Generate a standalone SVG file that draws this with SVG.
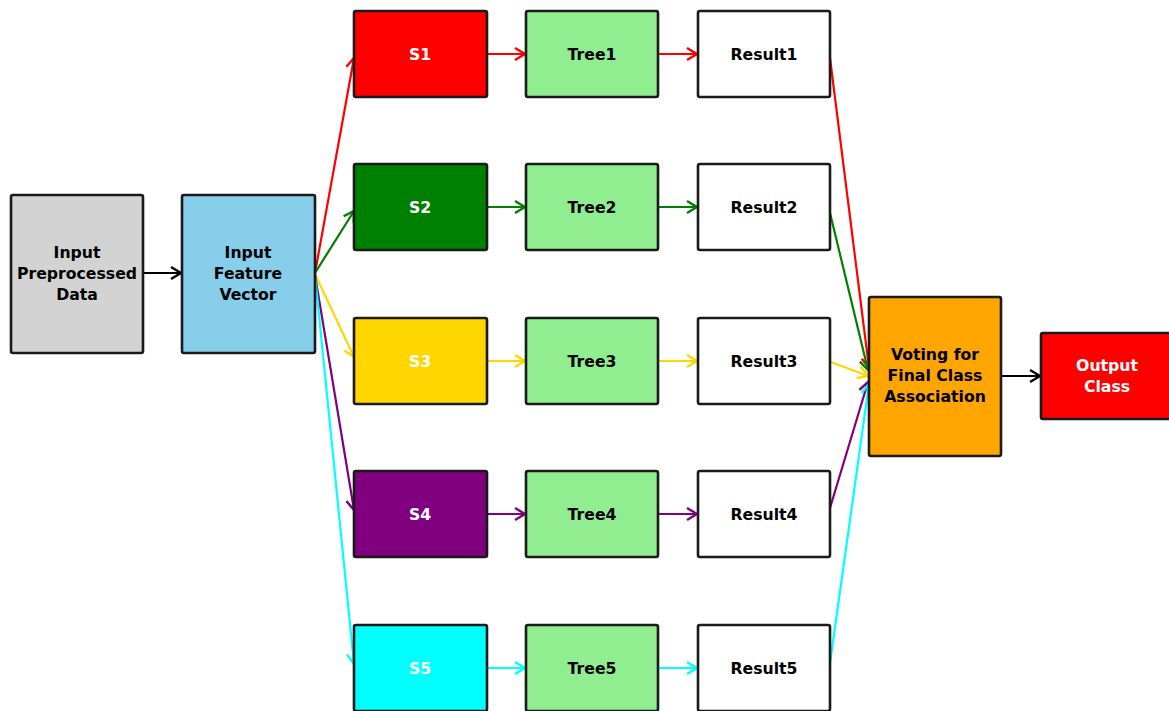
<svg xmlns="http://www.w3.org/2000/svg" width="1169" height="711" viewBox="0 0 1169 711">
<style>
.box{stroke:#1a1a1a;stroke-width:2.6}
.t{font-family:"DejaVu Sans",sans-serif;font-weight:bold;font-size:15.7px;text-anchor:middle}
.w{fill:#ffffff}
.k{fill:#000000}
.c{fill:none;stroke-width:2.2}
</style>
<defs>
<marker id="mk" markerUnits="userSpaceOnUse" markerWidth="16" markerHeight="16" refX="13" refY="8" orient="auto"><path d="M3,2 L13,8 L3,14" fill="none" stroke="#000" stroke-width="2.4"/></marker>
<marker id="mr" markerUnits="userSpaceOnUse" markerWidth="16" markerHeight="16" refX="13" refY="8" orient="auto"><path d="M3,2 L13,8 L3,14" fill="none" stroke="#ff0000" stroke-width="2.4"/></marker>
<marker id="mg" markerUnits="userSpaceOnUse" markerWidth="16" markerHeight="16" refX="13" refY="8" orient="auto"><path d="M3,2 L13,8 L3,14" fill="none" stroke="#008000" stroke-width="2.4"/></marker>
<marker id="my" markerUnits="userSpaceOnUse" markerWidth="16" markerHeight="16" refX="13" refY="8" orient="auto"><path d="M3,2 L13,8 L3,14" fill="none" stroke="#ffd700" stroke-width="2.4"/></marker>
<marker id="mp" markerUnits="userSpaceOnUse" markerWidth="16" markerHeight="16" refX="13" refY="8" orient="auto"><path d="M3,2 L13,8 L3,14" fill="none" stroke="#800080" stroke-width="2.4"/></marker>
<marker id="mc" markerUnits="userSpaceOnUse" markerWidth="16" markerHeight="16" refX="13" refY="8" orient="auto"><path d="M3,2 L13,8 L3,14" fill="none" stroke="#00ffff" stroke-width="2.4"/></marker>
</defs>
<rect width="1169" height="711" fill="#ffffff"/>
<g id="connectors">
<line class="c" x1="143" y1="273" x2="181" y2="273" stroke="#000" marker-end="url(#mk)"/>
<line class="c" x1="1001" y1="376" x2="1040" y2="376" stroke="#000" marker-end="url(#mk)"/>
<line class="c" x1="315" y1="273" x2="354" y2="58" stroke="#ff0000" marker-end="url(#mr)"/>
<line class="c" x1="315" y1="273" x2="354" y2="211" stroke="#008000" marker-end="url(#mg)"/>
<line class="c" x1="315" y1="274" x2="354" y2="357" stroke="#ffd700" marker-end="url(#my)"/>
<line class="c" x1="315" y1="275" x2="354" y2="510" stroke="#800080" marker-end="url(#mp)"/>
<line class="c" x1="315" y1="275" x2="354" y2="664" stroke="#00ffff" marker-end="url(#mc)"/>
<line class="c" x1="487" y1="54" x2="525" y2="54" stroke="#ff0000" marker-end="url(#mr)"/>
<line class="c" x1="658" y1="54" x2="697" y2="54" stroke="#ff0000" marker-end="url(#mr)"/>
<line class="c" x1="487" y1="207" x2="525" y2="207" stroke="#008000" marker-end="url(#mg)"/>
<line class="c" x1="658" y1="207" x2="697" y2="207" stroke="#008000" marker-end="url(#mg)"/>
<line class="c" x1="487" y1="361" x2="525" y2="361" stroke="#ffd700" marker-end="url(#my)"/>
<line class="c" x1="658" y1="361" x2="697" y2="361" stroke="#ffd700" marker-end="url(#my)"/>
<line class="c" x1="487" y1="514" x2="525" y2="514" stroke="#800080" marker-end="url(#mp)"/>
<line class="c" x1="658" y1="514" x2="697" y2="514" stroke="#800080" marker-end="url(#mp)"/>
<line class="c" x1="487" y1="668" x2="525" y2="668" stroke="#00ffff" marker-end="url(#mc)"/>
<line class="c" x1="658" y1="668" x2="697" y2="668" stroke="#00ffff" marker-end="url(#mc)"/>
<line class="c" x1="830" y1="58" x2="869" y2="368" stroke="#ff0000" marker-end="url(#mr)"/>
<line class="c" x1="830" y1="213" x2="868" y2="370" stroke="#008000" marker-end="url(#mg)"/>
<line class="c" x1="831" y1="362" x2="868" y2="376" stroke="#ffd700" marker-end="url(#my)"/>
<line class="c" x1="830" y1="508" x2="868" y2="382" stroke="#800080" marker-end="url(#mp)"/>
<line class="c" x1="830" y1="663" x2="869" y2="384" stroke="#00ffff" marker-end="url(#mc)"/>
</g>
<g id="input"><rect class="box" x="11" y="195" width="132" height="158" rx="2" fill="#d3d3d3"/><text class="t k" x="77" y="258">Input</text><text class="t k" x="77" y="279">Preprocessed</text><text class="t k" x="77" y="300">Data</text></g>
<g id="feature"><rect class="box" x="182" y="195" width="133" height="158" rx="2" fill="#87ceeb"/><text class="t k" x="248" y="258">Input</text><text class="t k" x="248" y="279">Feature</text><text class="t k" x="248" y="300">Vector</text></g>
<g id="s1"><rect class="box" x="354" y="11" width="133" height="86" rx="2" fill="#ff0000"/><text class="t w" x="420" y="60">S1</text></g>
<g id="s2"><rect class="box" x="354" y="164" width="133" height="86" rx="2" fill="#008000"/><text class="t w" x="420" y="213">S2</text></g>
<g id="s3"><rect class="box" x="354" y="318" width="133" height="86" rx="2" fill="#ffd700"/><text class="t w" x="420" y="367">S3</text></g>
<g id="s4"><rect class="box" x="354" y="471" width="133" height="86" rx="2" fill="#800080"/><text class="t w" x="420" y="520">S4</text></g>
<g id="s5"><rect class="box" x="354" y="625" width="133" height="86" rx="2" fill="#00ffff"/><text class="t w" x="420" y="674">S5</text></g>
<g id="tree1"><rect class="box" x="526" y="11" width="132" height="86" rx="2" fill="#90ee90"/><text class="t k" x="592" y="60">Tree1</text></g>
<g id="tree2"><rect class="box" x="526" y="164" width="132" height="86" rx="2" fill="#90ee90"/><text class="t k" x="592" y="213">Tree2</text></g>
<g id="tree3"><rect class="box" x="526" y="318" width="132" height="86" rx="2" fill="#90ee90"/><text class="t k" x="592" y="367">Tree3</text></g>
<g id="tree4"><rect class="box" x="526" y="471" width="132" height="86" rx="2" fill="#90ee90"/><text class="t k" x="592" y="520">Tree4</text></g>
<g id="tree5"><rect class="box" x="526" y="625" width="132" height="86" rx="2" fill="#90ee90"/><text class="t k" x="592" y="674">Tree5</text></g>
<g id="result1"><rect class="box" x="698" y="11" width="132" height="86" rx="2" fill="#ffffff"/><text class="t k" x="764" y="60">Result1</text></g>
<g id="result2"><rect class="box" x="698" y="164" width="132" height="86" rx="2" fill="#ffffff"/><text class="t k" x="764" y="213">Result2</text></g>
<g id="result3"><rect class="box" x="698" y="318" width="132" height="86" rx="2" fill="#ffffff"/><text class="t k" x="764" y="367">Result3</text></g>
<g id="result4"><rect class="box" x="698" y="471" width="132" height="86" rx="2" fill="#ffffff"/><text class="t k" x="764" y="520">Result4</text></g>
<g id="result5"><rect class="box" x="698" y="625" width="132" height="86" rx="2" fill="#ffffff"/><text class="t k" x="764" y="674">Result5</text></g>
<g id="voting"><rect class="box" x="869" y="297" width="132" height="159" rx="2" fill="#ffa500"/><text class="t k" x="935" y="360">Voting for</text><text class="t k" x="935" y="381">Final Class</text><text class="t k" x="935" y="402">Association</text></g>
<g id="output"><rect class="box" x="1041" y="333" width="132" height="86" rx="2" fill="#ff0000"/><text class="t w" x="1107" y="371">Output</text><text class="t w" x="1107" y="392">Class</text></g>
</svg>
